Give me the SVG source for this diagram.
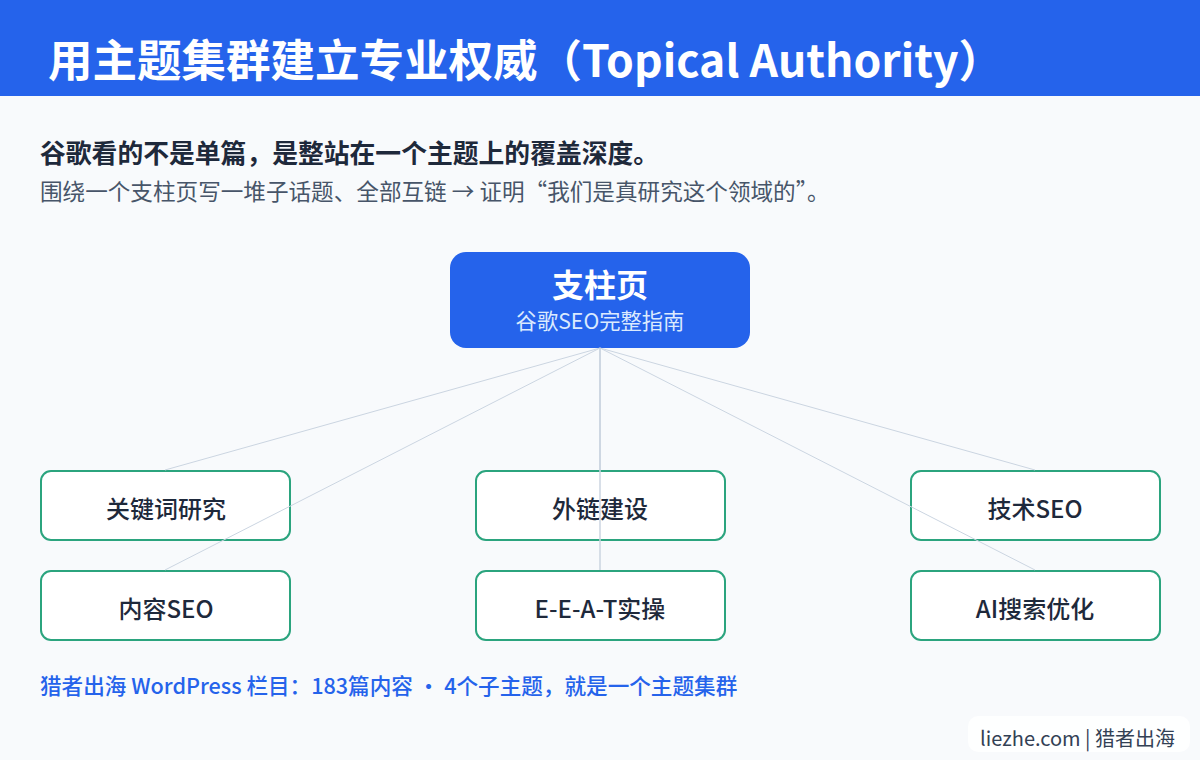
<svg xmlns="http://www.w3.org/2000/svg" width="1200" height="760" viewBox="0 0 1200 760">
<style>
  .cjk { font-family: "Noto Sans CJK SC", "Noto Sans", sans-serif; }
  .title { font-size: 44.5px; font-weight: 700; fill: #ffffff; }
  .lead { font-size: 25.8px; font-weight: 700; fill: #1e293b; }
  .sub { font-size: 22.6px; font-weight: 400; fill: #475569; }
  .child { fill: #ffffff; stroke: #2ba47e; stroke-width: 2; }
  .childtxt { font-size: 24px; font-weight: 500; fill: #1e293b; text-anchor: middle; }
  .conn { stroke: #cbd5e1; fill: none; }
  .foot { font-size: 21.6px; font-weight: 500; fill: #2563eb; }
  .mark { font-size: 20px; fill: #334155; }
</style>
<rect x="0" y="0" width="1200" height="760" fill="#f8fafc"/>
<rect x="0" y="0" width="1200" height="96" fill="#2563eb"/>
<text class="cjk title" x="48" y="77">用主题集群建立专业权威（Topical Authority）</text>
<text class="cjk lead" x="40" y="163">谷歌看的不是单篇，是整站在一个主题上的覆盖深度。</text>
<text class="cjk sub" x="40" y="200">围绕一个支柱页写一堆子话题、全部互链 → 证明“我们是真研究这个领域的”。</text>

<g id="pillar">
  <rect x="450" y="252" width="300" height="96" rx="16" fill="#2563eb"/>
  <text class="cjk" x="600" y="297" text-anchor="middle" font-size="32" font-weight="700" fill="#ffffff">支柱页</text>
  <text class="cjk" x="600" y="329" text-anchor="middle" font-size="21.3" fill="#dbeafe">谷歌SEO完整指南</text>
</g>
<g id="node-keyword">
  <rect class="child" x="41" y="471" width="249" height="69" rx="10"/>
  <text class="cjk childtxt" x="166" y="518">关键词研究</text>
</g>
<g id="node-content">
  <rect class="child" x="41" y="571" width="249" height="69" rx="10"/>
  <text class="cjk childtxt" x="166" y="618">内容SEO</text>
</g>
<g id="node-links">
  <rect class="child" x="476" y="471" width="249" height="69" rx="10"/>
  <text class="cjk childtxt" x="600" y="518">外链建设</text>
</g>
<g id="node-eeat">
  <rect class="child" x="476" y="571" width="249" height="69" rx="10"/>
  <text class="cjk childtxt" x="600" y="618">E-E-A-T实操</text>
</g>
<g id="node-tech">
  <rect class="child" x="911" y="471" width="249" height="69" rx="10"/>
  <text class="cjk childtxt" x="1035" y="518">技术SEO</text>
</g>
<g id="node-ai">
  <rect class="child" x="911" y="571" width="249" height="69" rx="10"/>
  <text class="cjk childtxt" x="1035" y="618">AI搜索优化</text>
</g>

<g id="connectors">
  <line class="conn" x1="600" y1="348" x2="165" y2="470" stroke-width="1"/>
  <line class="conn" x1="600" y1="348" x2="165" y2="570" stroke-width="1"/>
  <line class="conn" x1="600" y1="348" x2="600" y2="470" stroke-width="1.5"/>
  <line class="conn" x1="600" y1="348" x2="600" y2="570" stroke-width="1.5"/>
  <line class="conn" x1="600" y1="348" x2="1035" y2="470" stroke-width="1"/>
  <line class="conn" x1="600" y1="348" x2="1035" y2="570" stroke-width="1"/>
</g>

<text class="cjk foot" x="40" y="694">猎者出海 WordPress 栏目：183篇内容 · 4个子主题，就是一个主题集群</text>

<g id="watermark">
  <rect x="968" y="716" width="222" height="36" rx="10" fill="#ffffff" fill-opacity="0.85"/>
  <text class="cjk mark" x="980" y="746">liezhe.com | 猎者出海</text>
</g>
</svg>
